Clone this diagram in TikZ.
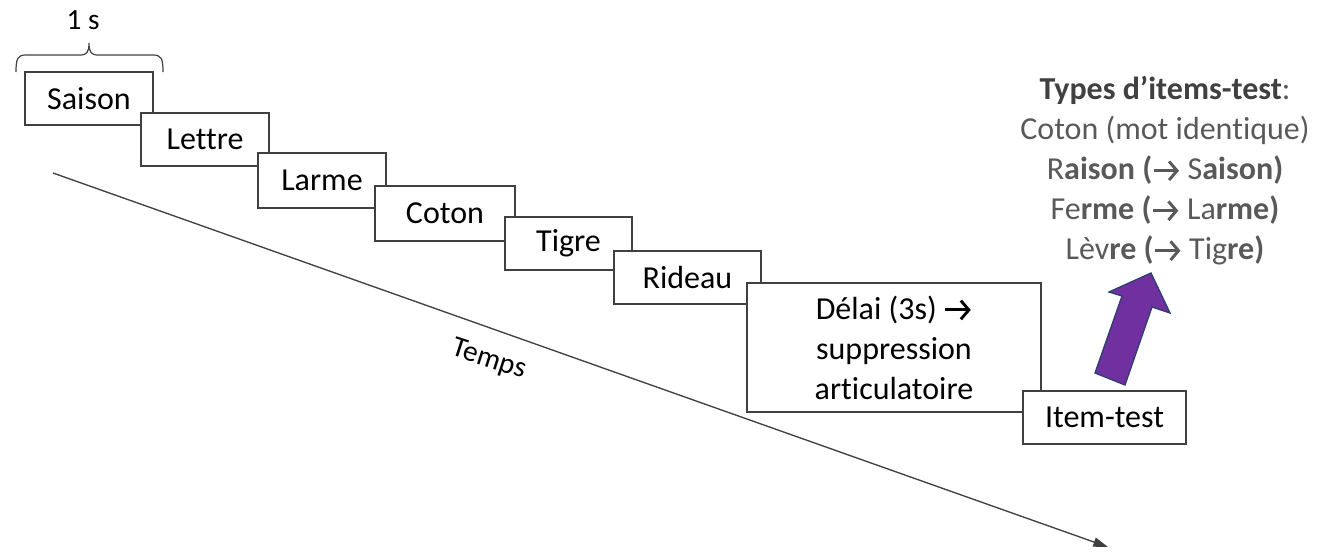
\documentclass[tikz,border=0pt]{standalone}
\usepackage{fontspec}
\setmainfont{Carlito}[Ligatures={NoCommon,NoRequired,NoContextual}]
\usetikzlibrary{arrows.meta}
\definecolor{txtgray}{HTML}{595959}
\definecolor{titlegray}{HTML}{404040}
\definecolor{arrowpurple}{HTML}{7030A0}
\definecolor{arrowedge}{HTML}{2F3F6F}
\newcommand{\thinkarrow}{\tikz[baseline=-0.6ex,x=1pt,y=1pt]\draw[line width=2.2pt,-{Straight Barb[length=6pt,width=14pt]}] (0,0) -- (19,0);}
\tikzset{
	slide/.style={draw=black!75, fill=white, line width=1pt, inner sep=0pt, font=\fontsize{24}{30}\selectfont},
	timeline/.style={draw=black!75, line width=1pt, -{Triangle[length=11pt,width=7pt]}},
}

\begin{document}
\begin{tikzpicture}[x=0.75pt,y=-0.75pt]
			%%%%% START %%%%%
			\useasboundingbox (0,0) rectangle (1332,551);
			
			\coordinate (t0) at (53,173);
			\coordinate (t1) at (1108,547);
			\draw[timeline] (t0) -- (t1);
			\node[rotate=-18, font=\fontsize{22}{26}\selectfont] (temps) at (489,360) {Temps};
			
			\draw[line width=0.9pt, draw=black!75] (16,72) .. controls (16,58) and (18,55) .. (26,55) -- (80,55) .. controls (87,55) and (89,52) .. (89,43) .. controls (89,52) and (91,55) .. (98,55) -- (153,55) .. controls (161,55) and (163,58) .. (163,72);
			\node[font=\fontsize{22}{26}\selectfont] (dur) at (83,20) {1 s};
			
			\node[slide, minimum width=96pt, minimum height=39.75pt] (saison) at (89,98.5) {Saison};
			\node[slide, minimum width=96pt, minimum height=39.75pt] (lettre) at (205,139.5) {Lettre};
			\node[slide, minimum width=96pt, minimum height=41.25pt] (larme) at (322,180.5) {Larme};
			\node[slide, minimum width=105pt, minimum height=41.25pt] (coton) at (445,213.5) {Coton};
			\node[slide, minimum width=95.25pt, minimum height=39.75pt] (tigre) at (568.5,243.5) {Tigre};
			\node[slide, minimum width=110.25pt, minimum height=39.75pt] (rideau) at (687.5,277.5) {Rideau};
			\node[slide, align=center, minimum width=220.5pt, minimum height=96.75pt] (delai) at (894,347.5) {Délai (3s) \thinkarrow\\ suppression\\ articulatoire};
			\node[slide, minimum width=122.25pt, minimum height=39.75pt] (itemtest) at (1104.5,417.5) {Item-test};
			
			\draw[fill=arrowpurple, draw=arrowedge, line width=1pt] (1151,273) -- (1170,313) -- (1152,307) -- (1125,385) -- (1095,373) -- (1122,296) -- (1109,292) -- cycle;
			
			\node[align=center, text=txtgray, font=\fontsize{24}{30}\selectfont] (types) at (1165,171) {\textcolor{titlegray}{\textbf{Types d’items-test}}:\\ Coton (mot identique)\\ R\textbf{aison (}\thinkarrow{} S\textbf{aison)}\\ Fe\textbf{rme (}\thinkarrow{} La\textbf{rme)}\\ Lèv\textbf{re (}\thinkarrow{} Tig\textbf{re)}};
			
			%%%%% END %%%%%
\end{tikzpicture}
\end{document}
